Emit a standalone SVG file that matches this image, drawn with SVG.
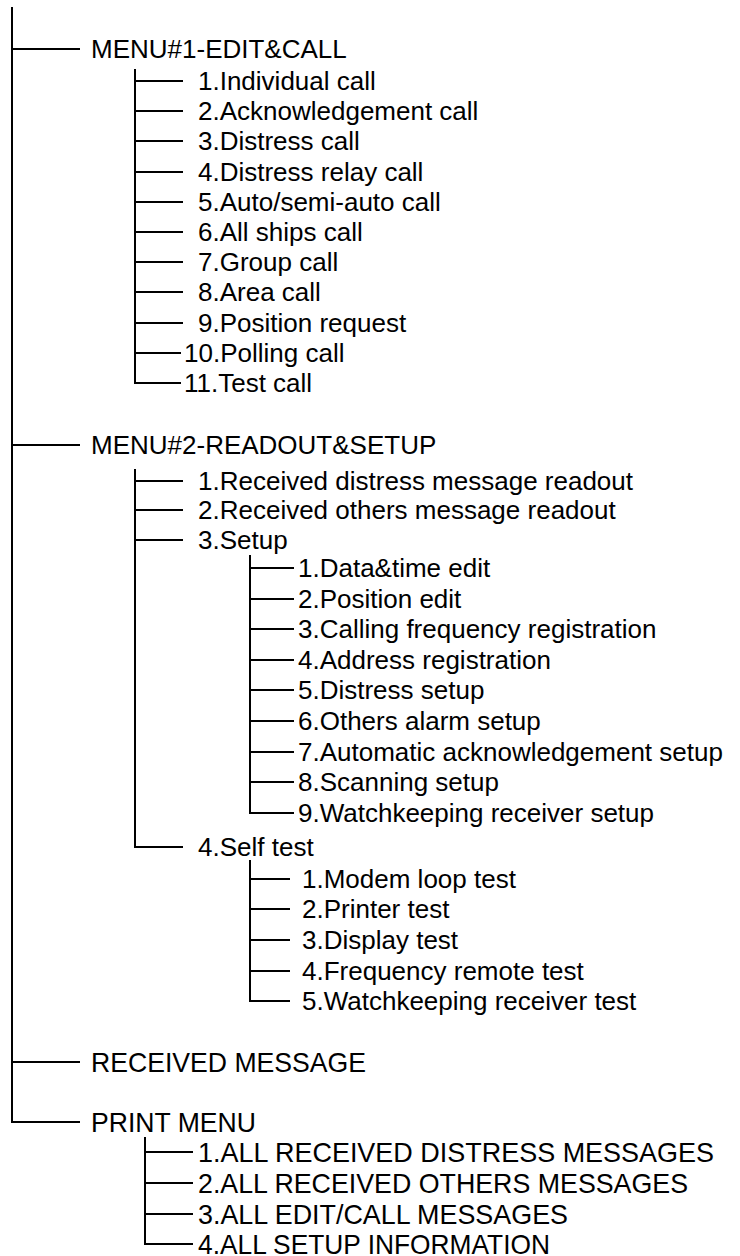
<svg xmlns="http://www.w3.org/2000/svg" width="740" height="1256" viewBox="0 0 740 1256">
<style>
.t{font-family:"Liberation Sans",Arial,sans-serif;font-size:26px;fill:#000}
.n{font-family:"Liberation Sans",Arial,sans-serif;font-size:27.5px;fill:#000}
.c{stroke:#000;stroke-width:2;fill:none}
</style>
<rect width="740" height="1256" fill="#fff"/>
<g id="connectors" class="c">
<path d="M12,7 V1122 H80"/>
<path d="M12,49 H80 M12,445 H80 M12,1062 H80"/>
<path d="M135,69 V383 H181"/>
<path d="M135,81 H183 M135,111 H183 M135,141 H183 M135,172 H183 M135,202 H183 M135,232 H183 M135,262 H183 M135,292 H183 M135,323 H183 M135,353 H181"/>
<path d="M135,469 V847 H183"/>
<path d="M135,481 H183 M135,510 H183 M135,540 H183"/>
<path d="M250,555 V813 H294"/>
<path d="M250,568 H294 M250,599 H294 M250,629 H294 M250,660 H294 M250,690 H294 M250,721 H294 M250,752 H294 M250,782 H294"/>
<path d="M250,860 V1001 H290"/>
<path d="M250,879 H290 M250,909 H290 M250,940 H290 M250,971 H290"/>
<path d="M145,1137 V1244 H193"/>
<path d="M145,1152 H193 M145,1183 H193 M145,1214 H193"/>
</g>
<g id="menu1"><text class="t" x="91" y="58.3">MENU#1-EDIT&amp;CALL</text></g>
<g id="m1-1"><text class="t" x="198" y="90.3">1.Individual call</text></g>
<g id="m1-2"><text class="t" x="198" y="120.3">2.Acknowledgement call</text></g>
<g id="m1-3"><text class="t" x="198" y="150.3">3.Distress call</text></g>
<g id="m1-4"><text class="t" x="198" y="181.3">4.Distress relay call</text></g>
<g id="m1-5"><text class="t" x="198" y="211.3">5.Auto/semi-auto call</text></g>
<g id="m1-6"><text class="t" x="198" y="241.3">6.All ships call</text></g>
<g id="m1-7"><text class="t" x="198" y="271.3">7.Group call</text></g>
<g id="m1-8"><text class="t" x="198" y="301.3">8.Area call</text></g>
<g id="m1-9"><text class="t" x="198" y="332.3">9.Position request</text></g>
<g id="m1-10"><text class="t" x="184" y="362.3">10.Polling call</text></g>
<g id="m1-11"><text class="t" x="184" y="392.3">11.Test call</text></g>
<g id="menu2"><text class="t" x="91" y="454.3">MENU#2-READOUT&amp;SETUP</text></g>
<g id="m2-1"><text class="t" x="198" y="490.3">1.Received distress message readout</text></g>
<g id="m2-2"><text class="t" x="198" y="519.3">2.Received others message readout</text></g>
<g id="m2-3"><text class="t" x="198" y="549.3">3.Setup</text></g>
<g id="s-1"><text class="t" x="298" y="577.3">1.Data&amp;time edit</text></g>
<g id="s-2"><text class="t" x="298" y="608.3">2.Position edit</text></g>
<g id="s-3"><text class="t" x="298" y="638.3">3.Calling frequency registration</text></g>
<g id="s-4"><text class="t" x="298" y="669.3">4.Address registration</text></g>
<g id="s-5"><text class="t" x="298" y="699.3">5.Distress setup</text></g>
<g id="s-6"><text class="t" x="298" y="730.3">6.Others alarm setup</text></g>
<g id="s-7"><text class="t" x="298" y="761.3">7.Automatic acknowledgement setup</text></g>
<g id="s-8"><text class="t" x="298" y="791.3">8.Scanning setup</text></g>
<g id="s-9"><text class="t" x="298" y="822.3">9.Watchkeeping receiver setup</text></g>
<g id="m2-4"><text class="t" x="198" y="856.3">4.Self test</text></g>
<g id="st-1"><text class="t" x="302" y="888.3">1.Modem loop test</text></g>
<g id="st-2"><text class="t" x="302" y="918.3">2.Printer test</text></g>
<g id="st-3"><text class="t" x="302" y="949.3">3.Display test</text></g>
<g id="st-4"><text class="t" x="302" y="980.3">4.Frequency remote test</text></g>
<g id="st-5"><text class="t" x="302" y="1010.3">5.Watchkeeping receiver test</text></g>
<g id="received"><text class="n" x="91" y="1071.9" textLength="275" lengthAdjust="spacingAndGlyphs">RECEIVED MESSAGE</text></g>
<g id="print"><text class="n" x="91" y="1131.9" textLength="165" lengthAdjust="spacingAndGlyphs">PRINT MENU</text></g>
<g id="p-1"><text class="n" x="198" y="1161.9" textLength="516" lengthAdjust="spacingAndGlyphs">1.ALL RECEIVED DISTRESS MESSAGES</text></g>
<g id="p-2"><text class="n" x="198" y="1192.9" textLength="490" lengthAdjust="spacingAndGlyphs">2.ALL RECEIVED OTHERS MESSAGES</text></g>
<g id="p-3"><text class="n" x="198" y="1223.9" textLength="370" lengthAdjust="spacingAndGlyphs">3.ALL EDIT/CALL MESSAGES</text></g>
<g id="p-4"><text class="n" x="198" y="1253.9" textLength="352" lengthAdjust="spacingAndGlyphs">4.ALL SETUP INFORMATION</text></g>
</svg>
